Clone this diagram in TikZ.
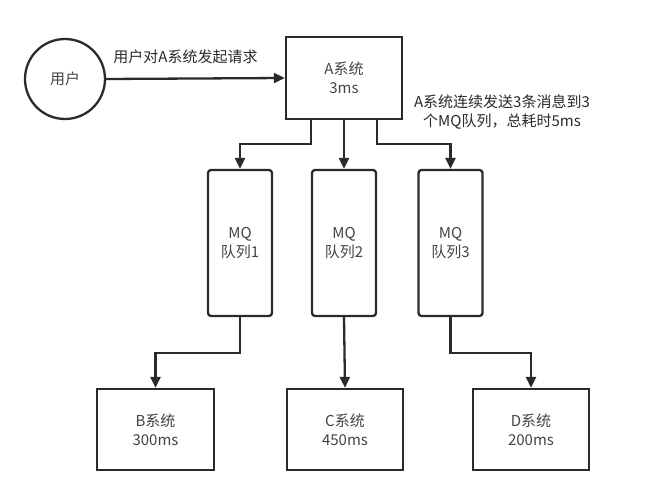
\documentclass[tikz,border=0pt]{standalone}
\usepackage{fontspec}
\setmainfont{Noto Sans CJK SC}
\usetikzlibrary{arrows.meta}
\definecolor{linec}{HTML}{2A2A2A}
\definecolor{txtc}{HTML}{444444}
\begin{document}
\begin{tikzpicture}[x=1pt,y=-1pt,
  every node/.style={font=\fontsize{15}{19}\selectfont, text=txtc},
  boxs/.style={draw=linec, line width=2.3pt, rectangle, align=center, inner sep=0pt},
  mqs/.style={boxs, rounded corners=3pt},
  arr/.style={draw=linec, line width=2.3pt, -{Triangle[length=11pt,width=10pt]}},
  lbl/.style={align=center, inner sep=0pt}]
\useasboundingbox (0,0) rectangle (650,497);
\fill[white] (0,0) rectangle (650,497);
\node[boxs, circle, minimum size=80pt] (user) at (65,79) {用户};
\node[boxs, minimum width=116pt, minimum height=82pt] (A) at (344,78) {A系统\\3ms};
\node[mqs, minimum width=64pt, minimum height=146pt] (mq1) at (240,243) {MQ\\队列1};
\node[mqs, minimum width=64pt, minimum height=146pt] (mq2) at (344,243) {MQ\\队列2};
\node[mqs, minimum width=64pt, minimum height=146pt] (mq3) at (450.5,243) {MQ\\队列3};
\node[boxs, minimum width=117pt, minimum height=81pt] (B) at (155.5,429.5) {B系统\\300ms};
\node[boxs, minimum width=116pt, minimum height=81pt] (C) at (345,429.5) {C系统\\450ms};
\node[boxs, minimum width=116pt, minimum height=81pt] (D) at (531,429.5) {D系统\\200ms};
\draw[arr] (user.east) -- (A.west);
\node[lbl, text=linec] (l1) at (185.5,57) {用户对A系统发起请求};
\node[lbl, text=linec] (l2) at (502,112) {A系统连续发送3条消息到3\\个MQ队列，总耗时5ms};
\draw[arr] ([xshift=-33pt]A.south) -- ++(0,24) -| (mq1.north);
\draw[arr] (A.south) -- (mq2.north);
\draw[arr] ([xshift=33pt]A.south) -- ++(0,24) -| (mq3.north);
\draw[arr] (mq1.south) -- ++(0,36) -| (B.north);
\draw[arr] (mq2.south) -- (C.north);
\draw[arr] (mq3.south) -- ++(0,36) -| (D.north);
\end{tikzpicture}
\end{document}
